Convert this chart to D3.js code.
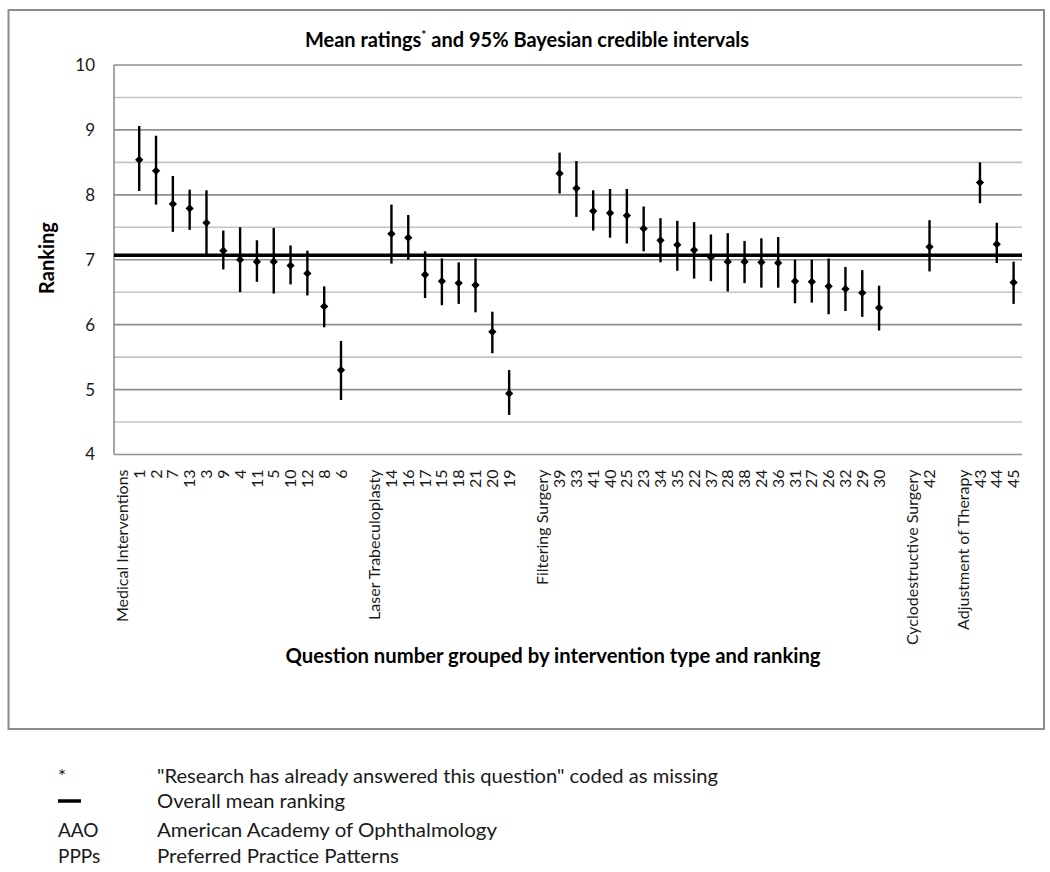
<!DOCTYPE html>
<html>
<head>
<meta charset="utf-8">
<script src="https://cdn.jsdelivr.net/npm/d3@7"></script>
<style>
  html, body { margin: 0; padding: 0; background: #fff; }
  svg { display: block; font-family: Lato, "Open Sans", sans-serif; }
</style>
</head>
<body>
<svg id="chart" width="1050" height="872"></svg>
<script>
// ---------- data ----------
const categories = ["Medical Interventions","1","2","7","13","3","9","4","11","5","10","12","8","6","",
  "Laser Trabeculoplasty","14","16","17","15","18","21","20","19","",
  "Filtering Surgery","39","33","41","40","25","23","34","35","22","37","28","38","24","36","31","27","26","32","29","30","",
  "Cyclodestructive Surgery","42","",
  "Adjustment of Therapy","43","44","45"];
const means = [null,8.54,8.37,7.86,7.79,7.57,7.14,7.00,6.97,6.97,6.91,6.79,6.28,5.30,null,
  null,7.40,7.34,6.77,6.67,6.64,6.61,5.89,4.94,null,
  null,8.33,8.10,7.75,7.72,7.68,7.48,7.30,7.23,7.15,7.04,6.97,6.97,6.96,6.95,6.67,6.66,6.59,6.55,6.49,6.26,null,
  null,7.20,null,
  null,8.19,7.24,6.65];
const lower = [null,8.06,7.85,7.43,7.46,7.07,6.85,6.50,6.66,6.48,6.62,6.45,5.96,4.84,null,
  null,6.94,7.00,6.41,6.30,6.32,6.19,5.56,4.61,null,
  null,8.02,7.66,7.45,7.34,7.25,7.13,6.96,6.83,6.71,6.67,6.51,6.64,6.57,6.57,6.33,6.34,6.16,6.21,6.12,5.91,null,
  null,6.82,null,
  null,7.87,6.95,6.32];
const upper = [null,9.06,8.91,8.29,8.08,8.07,7.45,7.50,7.30,7.49,7.22,7.14,6.59,5.75,null,
  null,7.85,7.69,7.13,7.02,6.96,7.02,6.20,5.30,null,
  null,8.65,8.52,8.07,8.09,8.09,7.82,7.64,7.60,7.58,7.39,7.41,7.29,7.33,7.35,7.00,7.00,7.02,6.89,6.84,6.60,null,
  null,7.61,null,
  null,8.50,7.57,6.97];
const overallMean = 7.07;
const yTicks = [4,5,6,7,8,9,10];
const gridValues = [4,4.5,5,5.5,6,6.5,7,7.5,8,8.5,9,9.5,10];
const titleMain = "Mean ratings";
const titleRest = " and 95% Bayesian credible intervals";
const yTitle = "Ranking";
const xTitle = "Question number grouped by intervention type and ranking";
const footSymbols = ["*", "", "AAO", "PPPs"];
const footTexts = ["\"Research has already answered this question\" coded as missing",
  "Overall mean ranking", "American Academy of Ophthalmology", "Preferred Practice Patterns"];

// ---------- layout ----------
const svg = d3.select("#chart");
const plot = {left: 114, right: 1022, top: 65, bottom: 454.5};

svg.append("rect").attr("x", 8.5).attr("y", 10).attr("width", 1035.5).attr("height", 719)
  .attr("fill", "#fff").attr("stroke", "#8c8c8c").attr("stroke-width", 2);

const idx = categories.map((c, i) => i);
const x = d3.scaleBand().domain(idx).range([plot.left, plot.right]);
const xc = i => x(i) + x.bandwidth() / 2;
const y = d3.scaleLinear().domain([4, 10]).range([plot.bottom, plot.top]);

// gridlines
svg.append("g").selectAll("line").data(gridValues).join("line")
  .attr("x1", plot.left).attr("x2", plot.right)
  .attr("y1", d => y(d)).attr("y2", d => y(d))
  .attr("stroke", d => Number.isInteger(d) ? "#8f8f8f" : "#c4c4c4")
  .attr("stroke-width", 1.6);

// y axis line
svg.append("line").attr("x1", plot.left).attr("x2", plot.left)
  .attr("y1", plot.top).attr("y2", plot.bottom)
  .attr("stroke", "#8f8f8f").attr("stroke-width", 1.6);

// y axis ticks via d3 axis
const yAxis = d3.axisLeft(y).tickValues(yTicks).tickSize(0).tickPadding(19).tickFormat(d3.format("d"));
const yg = svg.append("g").attr("transform", `translate(${plot.left},0)`).call(yAxis);
yg.select(".domain").remove();
yg.selectAll("text").attr("font-size", 17).attr("fill", "#1a1a1a").attr("font-family", "Lato, sans-serif");

// x axis labels (rotated)
const xAxis = d3.axisBottom(x).tickSize(0).tickFormat(i => categories[i]);
const xg = svg.append("g").attr("transform", `translate(0,${plot.bottom})`).call(xAxis);
xg.select(".domain").remove();
xg.selectAll("text")
  .attr("font-size", 16).attr("fill", "#1a1a1a").attr("font-family", "Lato, sans-serif")
  .attr("transform", "rotate(-90)")
  .attr("text-anchor", "end")
  .attr("x", -15).attr("y", 0).attr("dy", "0.35em");

// mean line
svg.append("line").attr("x1", plot.left).attr("x2", plot.right)
  .attr("y1", y(overallMean)).attr("y2", y(overallMean))
  .attr("stroke", "#000").attr("stroke-width", 3.5);

// error bars
const pts = idx.filter(i => means[i] !== null);
svg.append("g").selectAll("line").data(pts).join("line")
  .attr("x1", i => xc(i)).attr("x2", i => xc(i))
  .attr("y1", i => y(upper[i])).attr("y2", i => y(lower[i]))
  .attr("stroke", "#000").attr("stroke-width", 2.4);

// diamonds
const diamond = d3.symbol().type(d3.symbolSquare).size(34);
svg.append("g").selectAll("path").data(pts).join("path")
  .attr("d", diamond)
  .attr("transform", i => `translate(${xc(i)},${y(means[i])}) rotate(45)`)
  .attr("fill", "#000");

// title
const title = svg.append("text").attr("x", 527).attr("y", 47)
  .attr("text-anchor", "middle").attr("font-weight", "bold").attr("font-size", 20).attr("fill", "#000");
title.append("tspan").text(titleMain);
title.append("tspan").attr("font-size", 12).attr("dy", -8).text("*");
title.append("tspan").attr("dy", 8).text(titleRest);

// y title
svg.append("text").attr("transform", "translate(54,258) rotate(-90)")
  .attr("text-anchor", "middle").attr("font-weight", "bold").attr("font-size", 20).attr("fill", "#000")
  .text(yTitle);

// x title
svg.append("text").attr("x", 553).attr("y", 663)
  .attr("text-anchor", "middle").attr("font-weight", "bold").attr("font-size", 20).attr("fill", "#000")
  .attr("textLength", 535).attr("lengthAdjust", "spacingAndGlyphs")
  .text(xTitle);

// footnotes
const footY = [783, 808, 837, 863];
const footLen = [561, 188, 340, 242];
const fn = svg.append("g").attr("font-size", 19).attr("fill", "#1a1a1a");
fn.selectAll("text.sym").data(footSymbols).join("text").attr("class", "sym")
  .attr("x", 58).attr("y", (d, i) => footY[i]).text(d => d);
fn.selectAll("text.txt").data(footTexts).join("text").attr("class", "txt")
  .attr("x", 157).attr("y", (d, i) => footY[i])
  .attr("textLength", (d, i) => footLen[i]).attr("lengthAdjust", "spacingAndGlyphs")
  .text(d => d);
fn.append("line").attr("x1", 58).attr("x2", 81).attr("y1", footY[1] - 7).attr("y2", footY[1] - 7)
  .attr("stroke", "#000").attr("stroke-width", 3.5);
</script>
</body>
</html>
